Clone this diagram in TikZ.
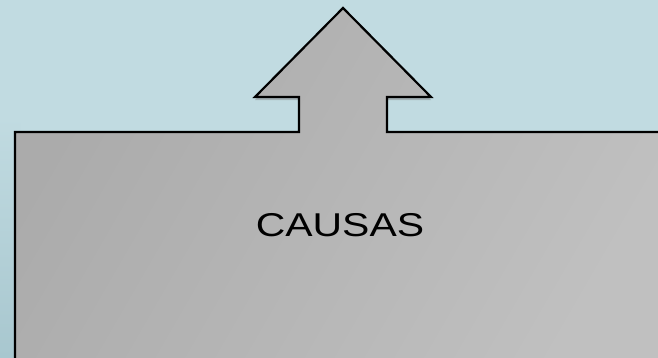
\documentclass[tikz,border=0pt]{standalone}
\usepackage{fontspec}
\setsansfont{Liberation Sans}
\usepackage{tikz}
\usetikzlibrary{shadows}
\definecolor{causaSky}{HTML}{C1DBE1}
\definecolor{causaSkyDark}{HTML}{A8C7CF}
\definecolor{causaGrayLight}{HTML}{ABABAB}
\definecolor{causaGrayMid}{HTML}{9E9E9E}
\definecolor{causaGrayPale}{HTML}{C0C0C0}
\tikzset{
  backdrop/.style={fill=causaSky},
  margin fade/.style={top color=causaSky, bottom color=causaSkyDark},
  block arrow/.style={draw=black, line width=2.2pt, line join=miter,
    left color=causaGrayLight, middle color=causaGrayMid,
    right color=causaGrayPale, shading angle=60,
    drop shadow={opacity=0.45, shadow xshift=0pt, shadow yshift=-3pt}},
  big label/.style={font=\sffamily\fontsize{33}{36}\selectfont,
    transform shape, xscale=1.24, inner sep=0pt}
}
\begin{document}
\begin{tikzpicture}[x=1pt, y=1pt]
  \useasboundingbox (0,0) rectangle (658,357);
  \clip (0,0) rectangle (658,357);
  \path[backdrop] (0,0) rectangle (658,357);
  \shade[margin fade] (0,0) rectangle (20,240);
  % box with the arrow on its top edge
  \path[block arrow] (15,-10) -- (15,225) -- (299,225) -- (299,260)
    -- (255,260) -- (343,349) -- (431,260) -- (387,260) -- (387,225)
    -- (670,225) -- (670,-10) -- cycle;
  \node[big label] (causas) at (340,132) {CAUSAS};
\end{tikzpicture}
\end{document}
